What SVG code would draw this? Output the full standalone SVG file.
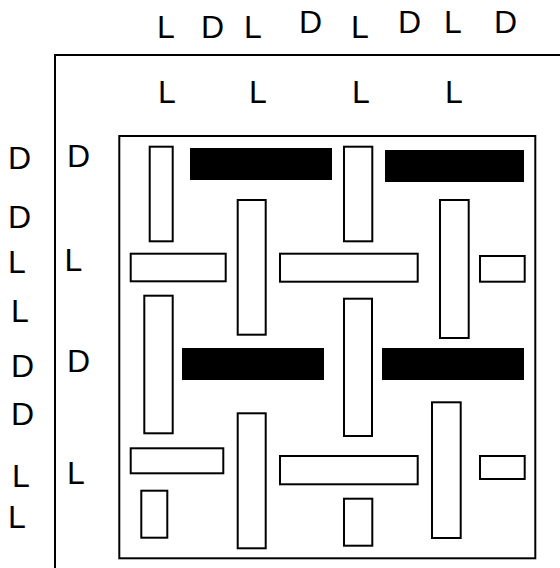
<svg xmlns="http://www.w3.org/2000/svg" width="560" height="568" viewBox="0 0 560 568">
<style>
.t{font-family:"Liberation Sans",Arial,sans-serif;font-size:32px;fill:#000}
.w{fill:#fff;stroke:#000;stroke-width:2}
.b{fill:#000;stroke:none}
.f{fill:none;stroke:#000;stroke-width:2}
</style>
<rect width="560" height="568" fill="#fff"/>
<g id="outer-frame"><path class="f" d="M55,568 V55 H560"/></g>
<g id="labels-top">
<text class="t" x="157" y="38">L</text>
<text class="t" x="201" y="38">D</text>
<text class="t" x="244" y="38">L</text>
<text class="t" x="299" y="32.5">D</text>
<text class="t" x="351" y="38">L</text>
<text class="t" x="398" y="32.5">D</text>
<text class="t" x="444" y="32.5">L</text>
<text class="t" x="494" y="32.5">D</text>
</g>
<g id="labels-row2">
<text class="t" x="158" y="103">L</text>
<text class="t" x="249" y="103">L</text>
<text class="t" x="352" y="103">L</text>
<text class="t" x="445" y="103">L</text>
</g>
<g id="labels-left">
<text class="t" x="8" y="169">D</text>
<text class="t" x="8" y="228">D</text>
<text class="t" x="8" y="272.5">L</text>
<text class="t" x="11" y="322">L</text>
<text class="t" x="11" y="377">D</text>
<text class="t" x="11" y="425">D</text>
<text class="t" x="12" y="486.5">L</text>
<text class="t" x="8" y="528">L</text>
</g>
<g id="labels-inner">
<text class="t" x="67" y="167">D</text>
<text class="t" x="64.5" y="270.5">L</text>
<text class="t" x="67" y="371.5">D</text>
<text class="t" x="67" y="484">L</text>
</g>
<g id="inner-frame"><rect class="f" x="119.3" y="136" width="416" height="422.3"/></g>
<g id="pieces">
<rect id="p1" class="w" x="149.7" y="146.7" width="23" height="94.6"/>
<rect id="p2" class="b" x="190" y="148" width="142" height="32"/>
<rect id="p3" class="w" x="237.7" y="200" width="28" height="134.7"/>
<rect id="p4" class="w" x="130.7" y="253.7" width="95" height="27.6"/>
<rect id="p5" class="w" x="144.3" y="295.7" width="28.4" height="137.6"/>
<rect id="p6" class="w" x="344" y="146.7" width="28.3" height="94.6"/>
<rect id="p7" class="b" x="385" y="150" width="139" height="32"/>
<rect id="p8" class="w" x="440" y="200" width="28.7" height="138"/>
<rect id="p9" class="w" x="280" y="253.7" width="137.7" height="28"/>
<rect id="p10" class="w" x="480" y="256" width="44.7" height="25.7"/>
<rect id="p11" class="w" x="344" y="298.7" width="28" height="137.3"/>
<rect id="p12" class="b" x="182" y="348" width="142" height="32"/>
<rect id="p13" class="w" x="130.7" y="448.3" width="92.6" height="25"/>
<rect id="p14" class="w" x="141.3" y="490.7" width="26" height="47"/>
<rect id="p15" class="w" x="237.7" y="413.3" width="28" height="135"/>
<rect id="p16" class="b" x="382" y="348" width="142" height="32"/>
<rect id="p17" class="w" x="280" y="456" width="137.7" height="28.3"/>
<rect id="p18" class="w" x="480" y="456" width="44.7" height="23"/>
<rect id="p19" class="w" x="432" y="402.3" width="28.7" height="135.7"/>
<rect id="p20" class="w" x="344" y="498.7" width="28.3" height="47"/>
</g>
</svg>
